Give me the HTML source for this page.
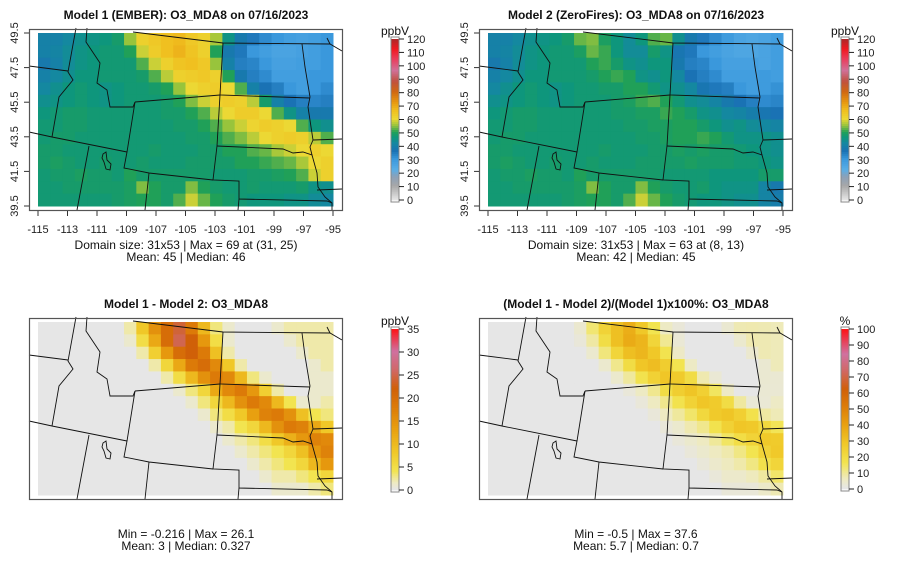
<!DOCTYPE html>
<html><head><meta charset="utf-8"><style>
body{margin:0;background:#fff;}
svg{display:block;font-family:"Liberation Sans",sans-serif;}
</style></head><body>
<svg id="c" width="900" height="579" viewBox="0 0 900 579"></svg>
<script>
// Model 1 O3_MDA8 (ppbV), 14 rows (north->south) x 24 cols (west->east)
const model1Rows = [
[40,40,42,44,45,46,48,55,62,64,66,67,64,62,56,45,38,35,32,30,28,27,28,30],
[40,41,43,45,46,47,47,50,58,63,66,68,65,62,50,38,35,30,28,26,26,27,28,30],
[38,40,43,45,46,47,47,47,52,58,62,65,66,64,55,40,34,33,30,27,27,28,28,30],
[40,42,44,46,46,47,47,47,48,52,57,62,63,64,62,50,38,34,32,28,28,28,30,30],
[42,44,46,47,46,45,46,47,47,48,50,55,60,62,63,60,52,40,36,34,30,28,30,32],
[44,45,46,47,46,45,46,47,47,47,48,50,54,58,62,63,62,57,48,40,36,34,33,34],
[46,47,48,48,47,47,47,47,47,47,48,48,50,52,57,60,63,63,60,52,45,40,38,38],
[47,47,48,48,47,47,47,47,47,47,47,48,48,50,52,55,58,61,63,62,60,52,46,44],
[47,48,48,47,47,47,47,47,47,47,47,47,48,48,50,52,54,57,60,62,63,62,57,52],
[48,48,47,47,47,47,47,47,47,48,47,47,47,48,48,50,50,52,53,56,58,60,62,60],
[48,49,48,47,47,48,47,47,48,47,47,47,48,48,48,48,50,50,51,52,53,56,60,62],
[47,48,48,49,48,48,47,50,48,48,48,48,48,48,47,47,47,48,48,49,50,52,58,62],
[47,47,48,48,48,48,48,49,54,50,48,48,54,50,48,47,47,48,47,47,47,48,45,44],
[47,47,47,47,47,47,48,49,50,50,48,52,58,53,50,48,47,46,46,46,45,45,43,42]
];
// Model 1 - Model 2 difference (ppbV)
const diffRows = [
[0,0,0,0,0,0,0,2,8,15,20,24,18,10,3,1,0,0,0,1,2,2,2,2],
[0,0,0,0,0,0,0,1,5,12,20,25,22,14,5,1,0,0,0,0,1,2,2,2],
[0,0,0,0,0,0,0,0,2,7,14,20,22,18,9,2,0,0,0,0,0,1,2,2],
[0,0,0,0,0,0,0,0,0,2,6,12,18,20,16,8,2,0,0,0,0,0,1,2],
[0,0,0,0,0,0,0,0,0,0,2,5,10,15,18,16,10,3,1,0,0,0,1,1],
[0,0,0,0,0,0,0,0,0,0,0,1,3,6,12,16,18,14,7,2,0,0,1,1],
[0,0,0,0,0,0,0,0,0,0,0,0,1,3,6,10,15,18,16,10,4,1,1,2],
[0,0,0,0,0,0,0,0,0,0,0,0,0,1,3,5,8,13,17,18,15,9,4,3],
[0,0,0,0,0,0,0,0,0,0,0,0,0,0,1,2,4,6,10,15,18,17,12,8],
[0,0,0,0,0,0,0,0,0,0,0,0,0,0,0,1,2,3,5,8,11,14,17,16],
[0,0,0,0,0,0,0,0,0,0,0,0,0,0,0,0,1,2,3,4,6,9,14,17],
[0,0,0,0,0,0,0,0,0,0,0,0,0,0,0,0,0,1,2,3,4,6,10,14],
[0,0,0,0,0,0,0,0,0,0,0,0,0,0,0,0,0,0,1,2,2,3,4,6],
[0,0,0,0,0,0,0,0,0,0,0,0,0,0,0,0,0,0,0,1,1,1,2,3]
];
const lonTicks = [-115,-113,-111,-109,-107,-105,-103,-101,-99,-97,-95];
const latTicks = [39.5,41.5,43.5,45.5,47.5,49.5];
const ppbTicks = [0,10,20,30,40,50,60,70,80,90,100,110,120];
const diffTicks = [0,5,10,15,20,25,30,35];
const pctTicks = [0,10,20,30,40,50,60,70,80,90,100];

const NS="http://www.w3.org/2000/svg";
const svg=document.getElementById('c');
function el(tag,attrs,parent){const e=document.createElementNS(NS,tag);for(const k in attrs)e.setAttribute(k,attrs[k]);(parent||svg).appendChild(e);return e;}
function hex(h){return [parseInt(h.slice(1,3),16),parseInt(h.slice(3,5),16),parseInt(h.slice(5,7),16)];}
function cmap(stops){return v=>{if(v<=stops[0][0])return stops[0][1];for(let i=1;i<stops.length;i++){if(v<=stops[i][0]){const a=stops[i-1],b=stops[i];const t=(v-a[0])/(b[0]-a[0]);const ca=hex(a[1]),cb=hex(b[1]);return 'rgb('+ca.map((x,j)=>Math.round(x+(cb[j]-x)*t)).join(',')+')';}}return stops[stops.length-1][1];};}
const ppbCol=cmap([[0,'#e4e4e4'],[10,'#a8a8a8'],[17,'#8aa0b8'],[22,'#5aaee6'],[30,'#3a98dc'],[36,'#1a72b4'],[42,'#1488a0'],[46,'#0e967c'],[50,'#20a058'],[55,'#98c43c'],[60,'#ecd834'],[66,'#f0c020'],[72,'#e89a10'],[80,'#d06810'],[88,'#c05040'],[96,'#d07098'],[104,'#e84060'],[112,'#f01820'],[120,'#a82828']]);
const diffCol=cmap([[0,'#e6e6e6'],[1.5,'#eeeac0'],[4,'#f2e450'],[8,'#f0c828'],[13,'#e8a010'],[18,'#dc7a08'],[22,'#d06008'],[26,'#d06868'],[30,'#d070a0'],[35,'#ff1010']]);
const pctCol=cmap([[0,'#e6e6e6'],[6,'#eeeac0'],[16,'#f2e450'],[28,'#f0c828'],[40,'#e8a010'],[52,'#dc7a08'],[62,'#d06008'],[74,'#d06868'],[84,'#d070a0'],[100,'#ff1010']]);

const NR=model1Rows.length, NC=model1Rows[0].length;
const model2Rows=model1Rows.map((r,i)=>r.map((v,j)=>v-diffRows[i][j]));
const pctRows=model1Rows.map((r,i)=>r.map((v,j)=>diffRows[i][j]/v*100));

const borders=[
 "133,32 223,43 330,44 342,51",
 "76,28 68,72 73,80 59,97 52,137",
 "87,28 86,42 100,63 97,83 107,90 110,107 133,107 135,102",
 "29,66 68,71",
 "29,132 52,137 127,152",
 "135,102 220,95",
 "135,102 127,152 124,168 149,173 213,180",
 "220,95 217,146 213,180 239,181 239,199 327,201 332,203",
 "223,43 220,95 310,98",
 "302,44 305,67 310,97 308,107 313,140 310,147 312,155",
 "217,146 283,149 293,153 303,152 312,155 317,173 318,187 325,197 332,203 332,210",
 "313,140 342,139",
 "149,173 145,210",
 "89,146 77,210",
 "239,199 238,210",
 "317,190 342,189",
 "327,38 330,44"
];
const lake="103,154 106,152 107,160 111,164 110,170 106,169 104,162 102,158";

function panel(ox,oy,rows,colFn,title,axes,stats,cb){
 const g=el('g',{},svg);
 
 
 const x0=ox+38,x1=ox+333,y0=oy+33,y1=oy+206;
 const cw=(x1-x0)/NC, ch=(y1-y0)/NR;
 const xs=j=>x0+j*cw, ys=i=>y0+i*ch;
 rows.forEach((r,i)=>r.forEach((v,j)=>{
  const c=el('rect',{x:xs(j).toFixed(2),y:ys(i).toFixed(2),width:(cw+0.5).toFixed(2),height:(ch+0.5).toFixed(2),fill:colFn(v)},g);
  
  
 }));
 const bg=el('g',{transform:`translate(${ox},${oy})`,fill:'none',stroke:'#111','stroke-width':'0.9'},g);
 
 
 borders.forEach(p=>el('polyline',{points:p},bg));
 el('polygon',{points:lake,fill:colFn(rows[Math.floor((160-33)/ch)][Math.floor((106-38)/cw)])},bg);
 const fr=el('rect',{x:ox+29.5,y:oy+29.5,width:313,height:181,fill:'none',stroke:'#555','stroke-width':'1.2'},g);
 
 
 const t=el('text',{x:ox+186,y:oy+19,'text-anchor':'middle','font-size':'12','font-weight':'bold',fill:'#111'},g);
 t.textContent=title;
 
 
 if(axes){
  const lx=v=>ox+38+(v+115)*(295/20), ly=v=>oy+206-(v-39.5)*(173/10);
  lonTicks.forEach(v=>{el('line',{x1:lx(v),x2:lx(v),y1:oy+211,y2:oy+216,stroke:'#333'},g);
   const tx=el('text',{x:lx(v),y:oy+233,'text-anchor':'middle','font-size':'11',fill:'#222'},g);tx.textContent=v;
   
   });
  latTicks.forEach(v=>{el('line',{x1:ox+24,x2:ox+29,y1:ly(v),y2:ly(v),stroke:'#333'},g);
   const tx=el('text',{x:ox+18,y:ly(v),'text-anchor':'middle','font-size':'11',fill:'#222',transform:`rotate(-90 ${ox+18} ${ly(v)})`},g);tx.textContent=v.toFixed(1);
   
   });
 }
 stats.forEach((s,k)=>{const tx=el('text',{x:ox+186,y:oy+249+k*12,'text-anchor':'middle','font-size':'12',fill:'#111'},g);tx.textContent=s;
  
  });
 const cbx=ox+391,cy0=oy+cb.top,cy1=oy+cb.bot,mx=cb.ticks[cb.ticks.length-1];
 const cy=v=>cy1-(v/mx)*(cy1-cy0);
 const cg=el('g',{},g);
 
 
 for(let k=0;k<80;k++){const v=mx*k/80;el('rect',{x:cbx,y:cy(v+mx/80),width:8,height:(cy1-cy0)/80+0.4,fill:colFn(v)},cg);}
 el('rect',{x:cbx,y:cy0-2,width:8,height:cy1-cy0+4,fill:'none',stroke:'#888','stroke-width':'1'},cg);
 cb.ticks.forEach(v=>{el('line',{x1:cbx+8,x2:cbx+13,y1:cy(v),y2:cy(v),stroke:'#222'},cg);
  const tx=el('text',{x:cbx+16,y:cy(v)+4,'font-size':'11',fill:'#222'},cg);tx.textContent=v;
  
  });
 const u=el('text',{x:cbx+4,y:cy0-4,'text-anchor':'middle','font-size':'12',fill:'#111'},cg);u.textContent=cb.unit;
 
 
}
panel(0,0,model1Rows,ppbCol,'Model 1 (EMBER): O3_MDA8 on 07/16/2023',true,['Domain size: 31x53 | Max = 69 at (31, 25)','Mean: 45 |  Median: 46'],{name:'model1',top:39,bot:200,ticks:ppbTicks,unit:'ppbV'});
panel(450,0,model2Rows,ppbCol,'Model 2 (ZeroFires): O3_MDA8 on 07/16/2023',true,['Domain size: 31x53 | Max = 63 at (8, 13)','Mean: 42 |  Median: 45'],{name:'model2',top:39,bot:200,ticks:ppbTicks,unit:'ppbV'});
panel(0,289,diffRows,diffCol,'Model 1 - Model 2: O3_MDA8',false,['Min = -0.216 | Max = 26.1','Mean: 3 |  Median: 0.327'],{name:'difference',top:40,bot:201,ticks:diffTicks,unit:'ppbV'});
panel(450,289,pctRows,pctCol,'(Model 1 - Model 2)/(Model 1)x100%: O3_MDA8',false,['Min = -0.5 | Max = 37.6','Mean: 5.7 |  Median: 0.7'],{name:'percent-difference',top:40,bot:200,ticks:pctTicks,unit:'%'});
</script>
</body></html>
